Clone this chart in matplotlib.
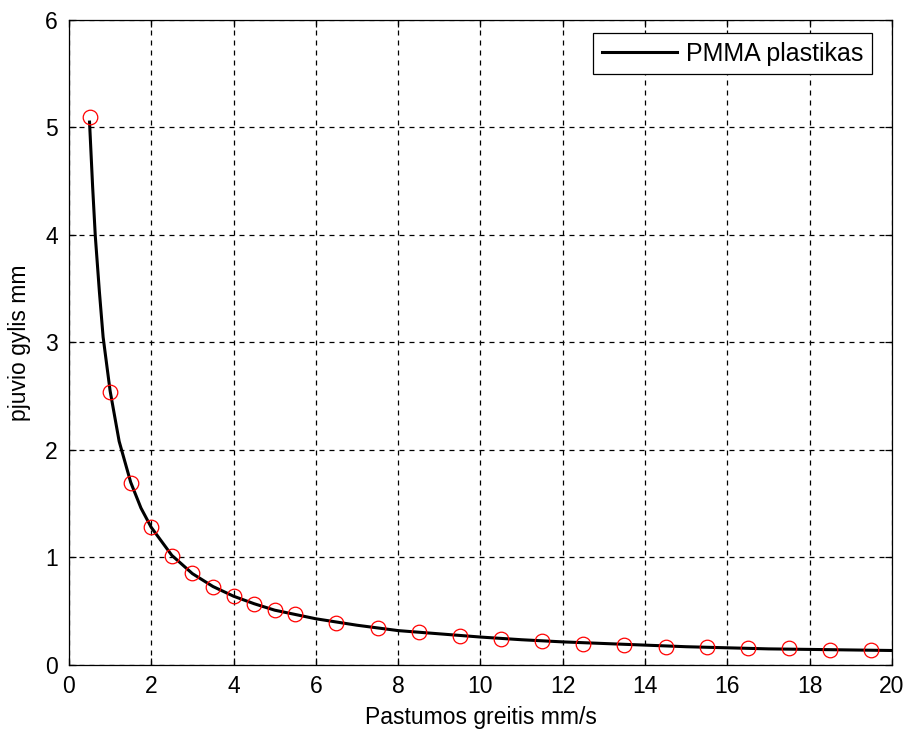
import numpy as np
import matplotlib.pyplot as plt

plt.rcParams['font.family'] = ['Liberation Sans', 'DejaVu Sans']

# measured feed speed (mm/s) and cut depth (mm)
speed = [0.5, 1.0, 1.5, 2.0, 2.5, 3.0, 3.5, 4.0, 4.5, 5.0, 5.5,
         6.5, 7.5, 8.5, 9.5, 10.5, 11.5, 12.5, 13.5, 14.5, 15.5,
         16.5, 17.5, 18.5, 19.5]
depth = [5.10, 2.54, 1.69, 1.28, 1.01, 0.86, 0.73, 0.64, 0.57, 0.51, 0.47,
         0.39, 0.34, 0.31, 0.27, 0.24, 0.22, 0.20, 0.19, 0.17, 0.17,
         0.16, 0.16, 0.14, 0.14]

# fitted curve, sampled along its length
fit_x = [0.5, 0.575, 0.64, 0.74, 0.83, 1.0, 1.22, 1.5, 1.75, 2.0, 2.5, 3.0,
         3.5, 4.0, 4.5, 5.0, 6.0, 7.0, 8.0, 9.0, 10.0, 11.0, 12.0, 13.0,
         14.0, 15.0, 16.0, 17.0, 18.0, 19.0, 20.0]
fit_y = [5.05, 4.45, 3.99, 3.47, 3.05, 2.55, 2.08, 1.70, 1.46, 1.28, 1.02, 0.85,
         0.73, 0.64, 0.57, 0.51, 0.43, 0.37, 0.32, 0.29, 0.26, 0.235, 0.215, 0.20,
         0.185, 0.17, 0.16, 0.15, 0.145, 0.14, 0.135]

FS = 16.5

fig = plt.figure(figsize=(9.05, 7.34), dpi=100)
ax = fig.add_axes([0.0762, 0.094, 0.9094, 0.8788])

ax.plot(fit_x, fit_y, color='black', linewidth=2.2, label='PMMA plastikas')
ax.plot(speed, depth, linestyle='none', marker='o', markersize=10.5,
        markerfacecolor='none', markeredgecolor='red', markeredgewidth=0.9)

ax.set_xlim(0, 20)
ax.set_ylim(0, 6)
ax.set_xticks(np.arange(0, 21, 2))
ax.set_yticks(np.arange(0, 7, 1))
ax.grid(True, color='black', linestyle=(0, (4, 4)), linewidth=0.9)
ax.tick_params(direction='in', top=True, right=True, length=5,
               labelsize=FS, width=0.9)
ax.tick_params(axis='x', pad=7)
ax.tick_params(axis='y', pad=8)
for s in ax.spines.values():
    s.set_linewidth(0.9)

ax.set_xlabel('Pastumos greitis mm/s', fontsize=FS, labelpad=6)
ax.set_ylabel('pjuvio gylis mm', fontsize=FS, labelpad=10)

leg = ax.legend(loc='upper right', fontsize=18, fancybox=False,
                framealpha=1, edgecolor='black', handlelength=3.0,
                handletextpad=0.35, borderpad=0.35, borderaxespad=0,
                bbox_to_anchor=(0.9757, 0.9798))
leg.get_frame().set_linewidth(0.9)

fig.savefig('out.png', dpi=100)
